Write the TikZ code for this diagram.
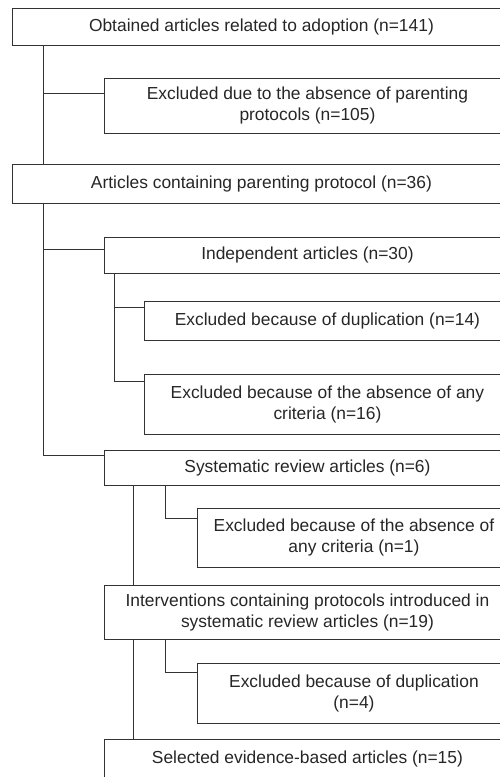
\documentclass[tikz,border=0pt]{standalone}
\usepackage{fontspec}
\setmainfont{Liberation Sans}
\begin{document}
\begin{tikzpicture}[x=1pt,y=-1pt,
  box/.style={draw=black!80, line width=0.9pt, rectangle, anchor=north west, inner sep=0pt,
    align=center, text=black!85, font=\fontsize{17.4}{21}\selectfont},
  link/.style={draw=black!80, line width=0.9pt}]
\clip (0,0) rectangle (500,777);
\node[box, minimum width=498pt, minimum height=37pt] (obt) at (12,8) {Obtained articles related to adoption (n=141)};
\node[box, minimum width=406pt, minimum height=55pt] (exparent) at (104,78) {Excluded due to the absence of parenting\\protocols (n=105)};
\node[box, minimum width=498pt, minimum height=39pt] (prot) at (12,164) {Articles containing parenting protocol (n=36)};
\node[box, minimum width=406pt, minimum height=36pt] (indep) at (104,237) {Independent articles (n=30)};
\node[box, minimum width=366pt, minimum height=39pt] (dup) at (144,301) {Excluded because of duplication (n=14)};
\node[box, minimum width=366pt, minimum height=60pt] (crit) at (144,374) {Excluded because of the absence of any\\criteria (n=16)};
\node[box, minimum width=406pt, minimum height=35pt] (sys) at (104,450) {Systematic review articles (n=6)};
\node[box, minimum width=313pt, minimum height=59pt] (exccrit) at (197,508) {Excluded because of the absence of\\any criteria (n=1)};
\node[box, minimum width=406pt, minimum height=54pt] (interv) at (104,585) {Interventions containing protocols introduced in\\systematic review articles (n=19)};
\node[box, minimum width=313pt, minimum height=60pt] (excdup) at (197,663) {Excluded because of duplication\\(n=4)};
\node[box, minimum width=406pt, minimum height=40pt] (sel) at (104,739) {Selected evidence-based articles (n=15)};

\draw[link] ([xshift=31pt]obt.south west) |- ([yshift=-15pt]exparent.north west);
\draw[link] ([xshift=31pt]obt.south west) -- ([xshift=31pt]prot.north west);
\draw[link] ([xshift=31pt]prot.south west) |- ([yshift=-12pt]indep.north west);
\draw[link] ([xshift=31pt]prot.south west) |- ([yshift=-5pt]sys.north west);
\draw[link] ([xshift=10pt]indep.south west) |- ([yshift=-6pt]dup.north west);
\draw[link] ([xshift=10pt]indep.south west) |- ([yshift=-7pt]crit.north west);
\draw[link] ([xshift=29pt]sys.south west) -- ([xshift=29pt]interv.north west);
\draw[link] ([xshift=61pt]sys.south west) |- ([yshift=-10pt]exccrit.north west);
\draw[link] ([xshift=29pt]interv.south west) -- ([xshift=29pt]sel.north west);
\draw[link] ([xshift=61pt]interv.south west) |- ([yshift=-9pt]excdup.north west);
\end{tikzpicture}
\end{document}
